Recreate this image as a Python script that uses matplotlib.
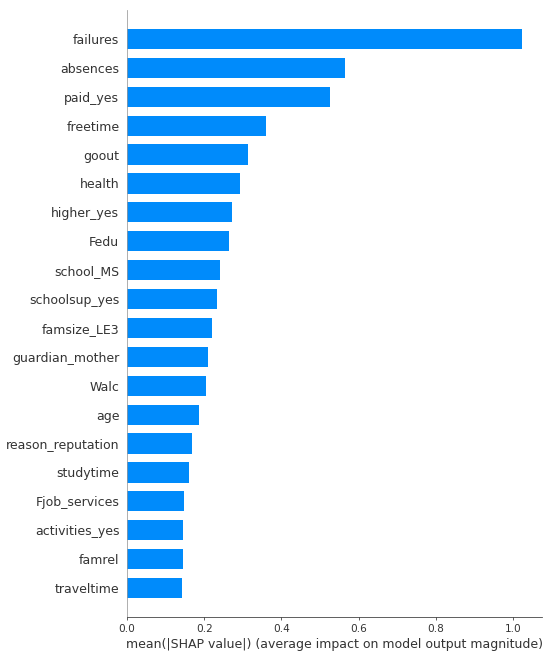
import matplotlib
matplotlib.use("Agg")
import matplotlib.pyplot as plt
import numpy as np

features = ["failures", "absences", "paid_yes", "freetime", "goout", "health",
            "higher_yes", "Fedu", "school_MS", "schoolsup_yes", "famsize_LE3",
            "guardian_mother", "Walc", "age", "reason_reputation", "studytime",
            "Fjob_services", "activities_yes", "famrel", "traveltime"]
values = [1.024, 0.565, 0.525, 0.359, 0.314, 0.294, 0.273, 0.265, 0.242, 0.234,
          0.220, 0.211, 0.205, 0.187, 0.169, 0.161, 0.147, 0.145, 0.144, 0.142]

axis_color = "#333333"
dpi = 69
fig = plt.figure(figsize=(550 / dpi, 656 / dpi), dpi=dpi)
ax = fig.add_axes([127 / 550, 1 - 617 / 656, (542 - 127) / 550, (617 - 10) / 656])

n = len(features)
y_pos = np.arange(n)[::-1]
ax.barh(y_pos, values, 0.7, align="center", color="#008bfb")
ax.set_yticks(y_pos)
ax.set_yticklabels(features, fontsize=13)
ax.set_ylim(-1, n)
ax.set_xlim(0, 1.075)
ax.set_xticks([0, 0.2, 0.4, 0.6, 0.8, 1.0])
ax.tick_params(color=axis_color, labelcolor=axis_color)
ax.tick_params("y", length=0, pad=8)
ax.tick_params("x", labelsize=11)
ax.spines["right"].set_visible(False)
ax.spines["top"].set_visible(False)
ax.spines["left"].set_color("#999999")
ax.spines["bottom"].set_color(axis_color)
ax.set_xlabel("mean(|SHAP value|) (average impact on model output magnitude)",
              fontsize=13, color=axis_color)

fig.savefig("out.png", dpi=dpi)
